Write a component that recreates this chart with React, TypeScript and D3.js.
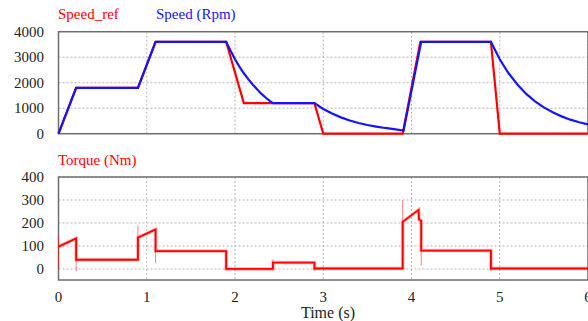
import React from 'react';
import * as d3 from 'd3';

// speed reference (rpm)
const refTime = [0, 0.2, 0.9, 1.1, 1.9, 2.1, 2.9, 3.0, 3.9, 4.1, 4.9, 5.0, 6.0];
const refSpeed = [0, 1800, 1800, 3600, 3600, 1200, 1200, 0, 0, 3600, 3600, 0, 0];

// measured speed (rpm)
const spdTime = [0, 0.2, 0.9, 1.1, 1.9, 1.95, 2.0, 2.05, 2.1, 2.15, 2.2, 2.25, 2.3, 2.35, 2.4, 2.43,
  2.9, 3.0, 3.1, 3.2, 3.3, 3.4, 3.5, 3.6, 3.7, 3.8, 3.91, 4.11, 4.9,
  5.0, 5.1, 5.2, 5.3, 5.4, 5.5, 5.6, 5.7, 5.8, 5.9, 6.0];
const spdValue = [0, 1800, 1800, 3600, 3600, 3250, 2920, 2630, 2370, 2140, 1930, 1740, 1560, 1410, 1270, 1200,
  1200, 970, 790, 640, 520, 420, 340, 280, 225, 180, 125, 3600, 3600,
  2920, 2370, 1930, 1560, 1270, 1030, 840, 680, 550, 450, 365];

// torque (Nm)
const trqTime = [0, 0.2, 0.2, 0.9, 0.9, 1.1, 1.1, 1.9, 1.9, 2.43, 2.43, 2.9, 2.9, 3.9, 3.9, 4.08, 4.085, 4.11, 4.11, 4.9, 4.9, 6.0];
const trqValue = [97, 133, 40, 40, 136, 172, 78, 78, 0, 0, 28, 28, 2, 2, 205, 257, 215, 210, 80, 80, 2, 2];

// single-sample spikes: time, from, to
const spikeTime = [0, 0.2, 0.9, 1.1, 1.9, 2.43, 2.9, 3.9, 4.11, 4.9];
const spikeFrom = [0, 130, 40, 170, 78, 0, 28, 0, 212, 80];
const spikeTo = [145, -10, 190, 25, -6, 42, -8, 300, 15, -8];

const timeTicks = [0, 1, 2, 3, 4, 5, 6];
const speedTicks = [0, 1000, 2000, 3000, 4000];
const torqueTicks = [0, 100, 200, 300, 400];

const W = 588;
const H = 321;
const FONT = "'Liberation Serif', 'Times New Roman', serif";
const RED = '#ff0000';
const BLUE = '#1414ff';

export default function App() {
  const x = d3.scaleLinear().domain([0, 6]).range([58.5, 588]);
  const ySpd = d3.scaleLinear().domain([0, 4000]).range([133.7, 31.7]);
  const yTrq = d3.scaleLinear().domain([-48, 400]).range([280, 177]);

  const ref = refTime.map((t, i) => [t, refSpeed[i]] as [number, number]);
  const spd = spdTime.map((t, i) => [t, spdValue[i]] as [number, number]);
  const trq = trqTime.map((t, i) => [t, trqValue[i]] as [number, number]);

  const lineSpd = d3.line<[number, number]>().x(d => x(d[0])).y(d => ySpd(d[1]));
  const lineTrq = d3.line<[number, number]>().x(d => x(d[0])).y(d => yTrq(d[1]));

  const panel = (y: d3.ScaleLinear<number, number>, ticks: number[]) => {
    const [y0, y1] = y.range();
    return (
      <g>
        {timeTicks.slice(1).map(t => (
          <line key={'vx' + t} x1={x(t)} x2={x(t)} y1={y1} y2={y0} stroke="#b4b4b4" strokeDasharray="2,2" />
        ))}
        {ticks.map(v => (
          <line key={'hy' + v} x1={x(0)} x2={x(6)} y1={y(v)} y2={y(v)} stroke="#b4b4b4" strokeDasharray="2,2" />
        ))}
        {ticks.map(v => (
          <text key={'ty' + v} x={44} y={y(v)} dy="0.35em" textAnchor="end" fontSize={15} fill="#222">{v}</text>
        ))}
        <rect x={x(0)} y={y1} width={x(6) - x(0)} height={y0 - y1} fill="none" stroke="#6e6e6e" strokeWidth={1.5} />
      </g>
    );
  };

  return (
    <svg width={W} height={H} style={{ position: 'absolute', left: 0, top: 0, fontFamily: FONT }}>
      <rect width={W} height={H} fill="#fff" />
      {panel(ySpd, speedTicks)}
      {panel(yTrq, torqueTicks)}

      <path d={lineSpd(ref) ?? ''} fill="none" stroke={RED} strokeWidth={2.2} />
      <path d={lineSpd(spd) ?? ''} fill="none" stroke={BLUE} strokeWidth={2.2} />

      {spikeTime.map((t, i) => (
        <line key={'sp' + i} x1={x(t)} x2={x(t)} y1={yTrq(spikeFrom[i])} y2={yTrq(spikeTo[i])}
          stroke={RED} strokeOpacity={0.5} strokeWidth={1} />
      ))}
      <path d={lineTrq(trq) ?? ''} fill="none" stroke={RED} strokeOpacity={0.3} strokeWidth={3.5} />
      <path d={lineTrq(trq) ?? ''} fill="none" stroke={RED} strokeWidth={1.8} />

      {timeTicks.map(t => (
        <text key={'tx' + t} x={x(t)} y={302} textAnchor="middle" fontSize={15} fill="#222">{t}</text>
      ))}
      <text x={328} y={318} textAnchor="middle" fontSize={16} fill="#222">Time (s)</text>

      <text x={58} y={19} fontSize={15} fill={RED}>Speed_ref</text>
      <text x={156} y={19} fontSize={15} fill={BLUE}>Speed (Rpm)</text>
      <text x={58} y={165} fontSize={15} fill={RED}>Torque (Nm)</text>
    </svg>
  );
}
